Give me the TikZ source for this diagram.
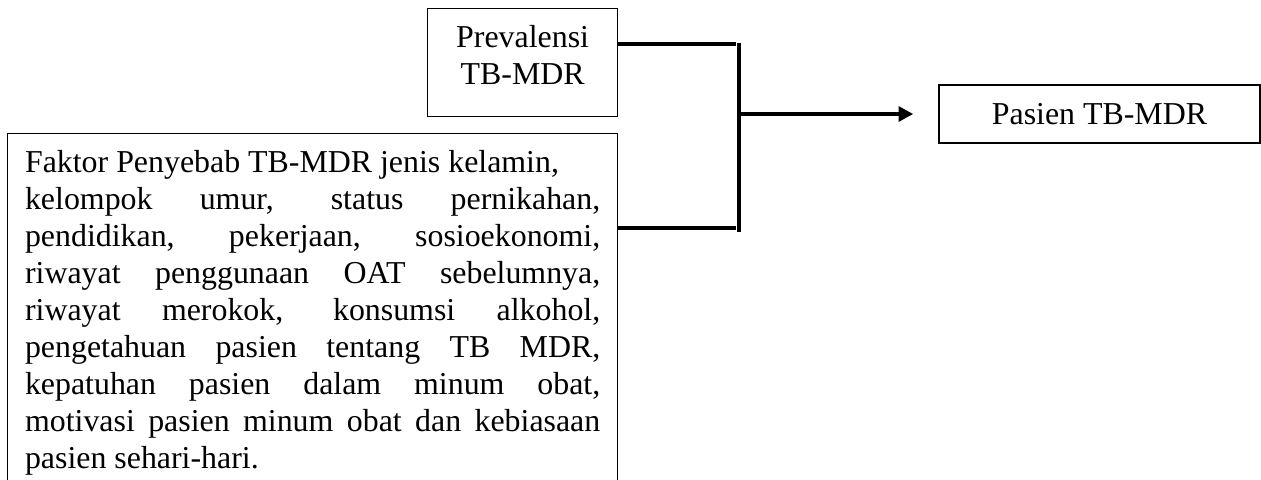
\documentclass[tikz,border=0pt]{standalone}
\usepackage{fontspec}
\setmainfont{Liberation Serif}
\usetikzlibrary{positioning,arrows.meta}

\begin{document}
\begin{tikzpicture}[
  box/.style={draw, line width=0.5pt, font=\fontsize{12.3pt}{14.3pt}\selectfont, inner ysep=0.235cm},
  link/.style={line width=1.5pt},
]
\useasboundingbox (0,0) rectangle (17.1,-6.496);
\node[box, anchor=north west, text width=2.377cm, inner xsep=0.1cm, align=center, text height=0.29cm, text depth=0.705cm] (node_prev) at (5.79 cm,-0.108 cm) {Prevalensi\\TB-MDR};
\node[box, anchor=north west, text width=7.8cm, inner xsep=0.236cm, align=justify, text height=0.29cm] (node_faktor) at (0.095 cm,-1.804 cm) {Faktor Penyebab TB-MDR jenis kelamin,\\
kelompok umur, status pernikahan,\linebreak
pendidikan, pekerjaan, sosioekonomi,\linebreak
riwayat penggunaan OAT sebelumnya,\linebreak
riwayat merokok, konsumsi alkohol,\linebreak
pengetahuan pasien tentang TB MDR,\linebreak
kepatuhan pasien dalam minum obat,\linebreak
motivasi pasien minum obat dan kebiasaan\linebreak
pasien sehari-hari.};
\node[box, minimum width=4.353cm, minimum height=0.786cm, inner sep=0pt] (node_pasien) at (14.91 cm,-1.546 cm) {Pasien TB-MDR};
\coordinate (join_top) at (10.022 cm,-0.597 cm);
\coordinate (join_mid) at (10.022 cm,-1.546 cm);
\coordinate (join_bot) at (10.022 cm,-3.092 cm);
\draw[link] (node_prev.east |- join_top) -- ([xshift=-0.04cm]join_top);
\draw[link] (node_faktor.east |- join_bot) -- ([xshift=-0.04cm]join_bot);
\draw[link] ([yshift=0.015cm]join_top) -- ([yshift=-0.055cm]join_bot);
\draw[link, -{Triangle[length=0.2cm,width=0.2cm]}, shorten >=0.34cm] (join_mid) -- (node_pasien.west);
\end{tikzpicture}
\end{document}
